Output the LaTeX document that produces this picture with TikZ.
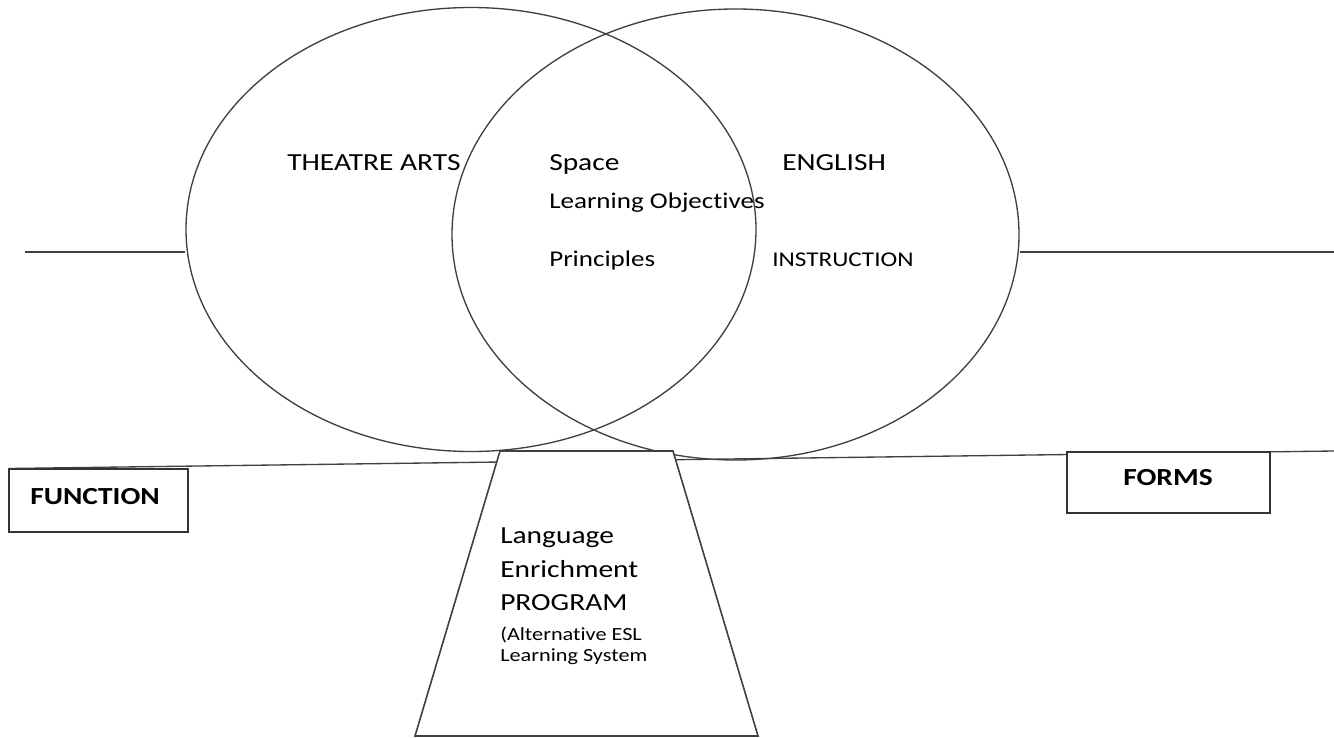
\documentclass[tikz,border=0pt]{standalone}
\usepackage{fontspec}
\setmainfont{Carlito}[FakeStretch=1.2, Ligatures={NoCommon}]
\usetikzlibrary{shapes.geometric}
\begin{document}
\begin{tikzpicture}[x=0.75pt,y=-0.75pt,
  outline/.style={draw=black!75, line width=1pt},
  circ/.style={outline, ellipse, inner sep=0pt},
  labelbox/.style={draw=black!80, line width=1.4pt, fill=white, inner sep=0pt},
  txt/.style={anchor=base west, inner sep=0pt, text=black},
  fsbig/.style={font=\fontsize{18.4pt}{22pt}\selectfont},
  fsmid/.style={font=\fontsize{16.9pt}{20pt}\selectfont},
  fssmall/.style={font=\fontsize{15.75pt}{19pt}\selectfont},
  fstiny/.style={font=\fontsize{13.9pt}{17pt}\selectfont},
  heading/.style={font=\fontsize{18.4pt}{22pt}\selectfont\bfseries}]
\useasboundingbox (0,0) rectangle (1334,738);
\fill[white] (0,0) rectangle (1334,738);

% the two overlapping subject areas
\node[circ, minimum width=427.5pt, minimum height=333pt] (theatre) at (471,229.5) {};
\node[circ, minimum width=425.25pt, minimum height=338.25pt] (english) at (735.5,234.5) {};

% horizontal arms on either side
\coordinate (armL) at (25,252);
\coordinate (armR) at (1334,252);
\draw[outline] (armL) -- (armL -| theatre.west);
\draw[outline] (armR) -- (armR -| english.east);

% the balance beam
\coordinate (beamL) at (9,468.5);
\coordinate (beamR) at (1334,451);
\draw[outline] (beamL) -- (beamR);

% the supporting base
\coordinate (tl) at (500,451);
\coordinate (tr) at (673,451);
\coordinate (br) at (758,736);
\coordinate (bl) at (415,736);
\draw[outline, line width=1.2pt, fill=white] (tl) -- (tr) -- (br) -- (bl) -- cycle;

% end boxes
\node[labelbox, minimum width=134.25pt, minimum height=47.25pt] (function) at (98.5,500.5) {};
\node[labelbox, minimum width=152.25pt, minimum height=45.75pt] (forms) at (1168.5,482.5) {};
\node[txt, heading] (functionlabel) at (30,504) {FUNCTION};
\node[txt, heading] (formslabel) at (1123,485) {FORMS};

% labels inside the circles
\node[txt, fsbig] (theatrelabel) at (287,171) {THEATRE ARTS};
\node[txt, fsbig] (space) at (549,171) {Space};
\node[txt, fsbig] (englishlabel) at (782,171) {ENGLISH};
\node[txt, fsmid] (objectives) at (549,209) {Learning Objectives};
\node[txt, fsmid] (principles) at (549,266) {Principles};
\node[txt, fssmall] (instruction) at (772,266) {INSTRUCTION};

% labels on the base
\node[txt, fsbig] (lep1) at (500,543) {Language};
\node[txt, fsbig] (lep2) at (500,577) {Enrichment};
\node[txt, fsbig] (lep3) at (500,610) {PROGRAM};
\node[txt, fstiny] (lep4) at (500,640) {(Alternative ESL};
\node[txt, fstiny] (lep5) at (500,661) {Learning System};
\end{tikzpicture}
\end{document}
